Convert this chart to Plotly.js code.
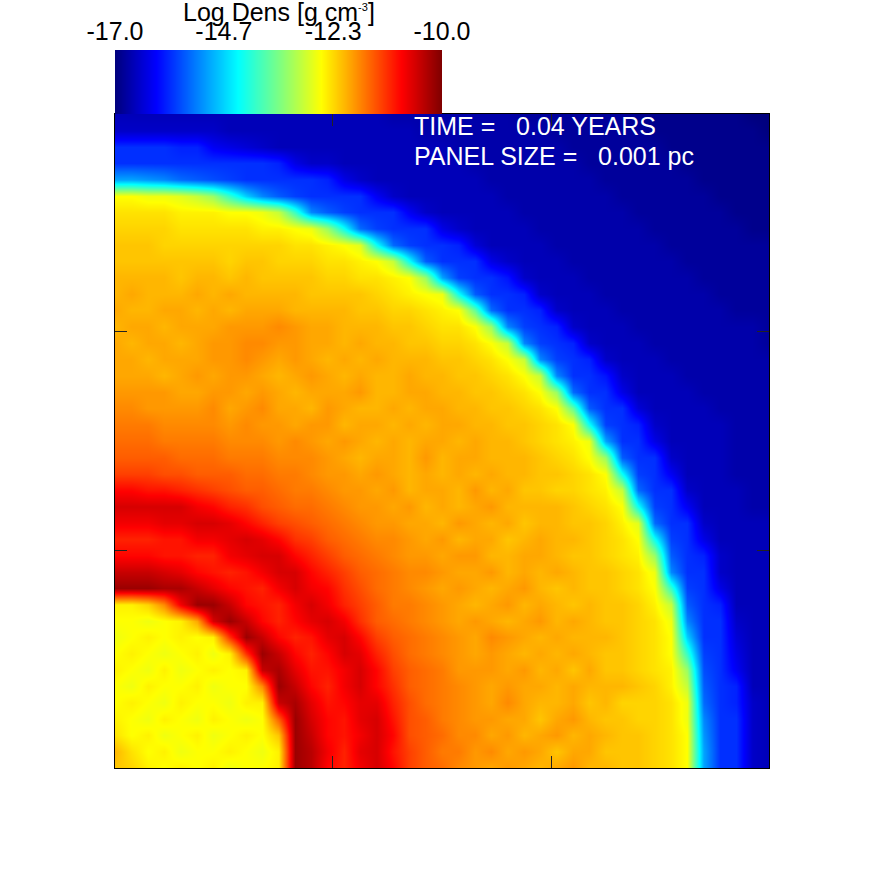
<!DOCTYPE html>
<html>
<head>
<meta charset="utf-8">
<script src="https://cdn.plot.ly/plotly-3.0.1.min.js"></script>
<style>
    html, body { margin: 0; padding: 0; background: white; }
    #chart { width: 884px; height: 884px; }
</style>
</head>
<body>
<div id="chart"></div>
<script>
// log density, first row is the bottom edge, first column the left edge
const logDens = [
[-12.2,-12.3,-12.5,-12.6,-12.5,-12.6,-12.5,-12.7,-12.6,-12.6,-12.5,-10.2,-10.4,-10.9,-11.1,-10.8,-10.6,-10.9,-11.3,-11.5,-11.6,-11.8,-11.9,-12.0,-11.9,-12.0,-12.1,-12.0,-11.9,-12.1,-12.1,-12.2,-12.2,-12.3,-12.4,-12.6,-15.0,-15.8,-15.8,-16.5,-16.6],
[-12.1,-12.4,-12.6,-12.5,-12.7,-12.6,-12.6,-12.5,-12.6,-12.7,-12.5,-10.2,-10.4,-10.8,-11.1,-10.7,-10.6,-11.0,-11.3,-11.5,-11.7,-11.7,-11.9,-11.8,-12.0,-11.9,-12.0,-12.2,-12.0,-12.0,-12.2,-12.2,-12.2,-12.3,-12.4,-12.6,-15.0,-15.8,-15.8,-16.5,-16.6],
[-12.4,-12.6,-12.5,-12.7,-12.6,-12.5,-12.7,-12.6,-12.5,-12.6,-12.2,-10.2,-10.5,-10.9,-11.0,-10.8,-10.6,-10.9,-11.4,-11.5,-11.6,-11.8,-11.8,-12.0,-11.9,-12.1,-12.0,-11.9,-12.1,-12.0,-12.1,-12.2,-12.2,-12.3,-12.4,-12.6,-15.1,-15.8,-15.8,-16.5,-16.6],
[-12.5,-12.6,-12.7,-12.5,-12.6,-12.7,-12.5,-12.6,-12.7,-12.6,-11.5,-10.2,-10.6,-10.9,-11.0,-10.7,-10.6,-11.0,-11.4,-11.5,-11.7,-11.8,-11.9,-11.9,-12.0,-12.0,-12.2,-12.0,-11.9,-12.1,-12.2,-12.2,-12.3,-12.3,-12.4,-12.7,-15.2,-15.8,-15.8,-16.5,-16.6],
[-12.6,-12.5,-12.6,-12.7,-12.5,-12.6,-12.6,-12.7,-12.5,-12.5,-10.5,-10.3,-10.7,-11.0,-10.9,-10.7,-10.7,-11.1,-11.4,-11.6,-11.7,-11.8,-11.9,-12.0,-11.8,-12.0,-12.1,-12.1,-12.0,-12.2,-12.1,-12.3,-12.3,-12.3,-12.4,-12.7,-15.4,-15.8,-15.9,-16.5,-16.6],
[-12.6,-12.7,-12.5,-12.6,-12.6,-12.5,-12.7,-12.6,-12.6,-11.8,-10.2,-10.5,-10.9,-11.1,-10.8,-10.6,-10.9,-11.2,-11.5,-11.6,-11.7,-11.8,-11.9,-12.0,-11.9,-12.0,-12.0,-12.1,-12.0,-12.1,-12.1,-12.1,-12.2,-12.3,-12.5,-13.0,-15.5,-15.8,-15.9,-16.6,-16.6],
[-12.5,-12.6,-12.7,-12.5,-12.7,-12.6,-12.5,-12.6,-12.5,-10.5,-10.3,-10.7,-11.0,-11.0,-10.8,-10.6,-10.9,-11.3,-11.5,-11.6,-11.7,-11.9,-11.9,-11.9,-12.0,-11.9,-12.1,-12.0,-12.2,-12.0,-12.2,-12.2,-12.3,-12.4,-12.5,-13.3,-15.6,-15.8,-16.2,-16.6,-16.6],
[-12.6,-12.5,-12.6,-12.7,-12.6,-12.5,-12.7,-12.5,-11.2,-10.2,-10.5,-10.9,-11.1,-10.9,-10.6,-10.7,-11.1,-11.4,-11.6,-11.7,-11.8,-11.9,-12.0,-11.9,-12.0,-12.1,-12.0,-12.1,-12.0,-12.1,-12.2,-12.2,-12.3,-12.4,-12.6,-14.0,-15.7,-15.8,-16.3,-16.6,-16.6],
[-12.7,-12.6,-12.5,-12.6,-12.5,-12.6,-12.5,-11.2,-10.2,-10.5,-10.9,-11.1,-11.0,-10.7,-10.6,-10.9,-11.3,-11.5,-11.6,-11.7,-11.8,-11.9,-12.0,-11.8,-11.9,-12.0,-12.1,-12.0,-12.1,-12.1,-12.1,-12.2,-12.3,-12.4,-12.6,-14.7,-15.8,-15.8,-16.4,-16.6,-16.6],
[-12.6,-12.6,-12.7,-12.6,-12.5,-12.0,-10.6,-10.2,-10.5,-10.9,-11.1,-10.9,-10.7,-10.6,-10.8,-11.2,-11.5,-11.6,-11.7,-11.8,-11.9,-12.0,-11.9,-12.0,-12.1,-12.0,-11.9,-12.1,-12.0,-12.1,-12.2,-12.2,-12.3,-12.4,-12.7,-15.2,-15.8,-15.8,-16.5,-16.6,-16.6],
[-12.5,-12.5,-12.3,-11.8,-10.8,-10.2,-10.2,-10.5,-10.9,-11.0,-11.1,-10.8,-10.6,-10.8,-11.1,-11.3,-11.5,-11.7,-11.7,-11.8,-11.9,-12.0,-12.1,-12.0,-11.9,-12.1,-12.0,-12.1,-12.2,-12.1,-12.2,-12.2,-12.3,-12.5,-13.0,-15.5,-15.8,-15.9,-16.6,-16.6,-16.6],
[-10.2,-10.2,-10.2,-10.3,-10.3,-10.5,-10.7,-10.9,-11.0,-11.1,-10.8,-10.6,-10.8,-10.9,-11.2,-11.4,-11.6,-11.7,-11.8,-11.9,-12.0,-11.9,-12.0,-12.1,-12.0,-11.9,-12.1,-12.2,-12.1,-12.2,-12.2,-12.3,-12.4,-12.6,-14.0,-15.7,-15.8,-16.3,-16.6,-16.6,-16.6],
[-10.5,-10.5,-10.5,-10.6,-10.7,-10.9,-11.0,-11.1,-11.0,-10.8,-10.6,-10.6,-10.9,-11.1,-11.3,-11.5,-11.6,-11.7,-11.8,-11.8,-11.9,-12.0,-12.0,-11.9,-12.1,-12.0,-12.1,-12.0,-12.1,-12.2,-12.2,-12.3,-12.4,-12.7,-15.2,-15.8,-15.8,-16.5,-16.6,-16.6,-16.6],
[-10.9,-10.9,-10.9,-11.0,-11.0,-11.1,-11.1,-10.8,-10.7,-10.6,-10.6,-10.9,-11.1,-11.3,-11.5,-11.6,-11.7,-11.8,-11.9,-11.9,-12.0,-11.9,-11.9,-12.1,-12.1,-12.0,-12.0,-12.1,-12.2,-12.2,-12.3,-12.4,-12.5,-13.3,-15.5,-15.8,-15.9,-16.5,-16.6,-16.6,-16.6],
[-11.1,-11.1,-11.1,-11.0,-11.0,-10.8,-10.8,-10.7,-10.6,-10.7,-10.9,-11.2,-11.3,-11.5,-11.6,-11.7,-11.8,-11.8,-11.9,-12.0,-11.9,-12.1,-12.0,-12.0,-12.2,-12.1,-12.0,-12.1,-12.1,-12.2,-12.3,-12.4,-12.6,-14.3,-15.7,-15.8,-16.3,-16.6,-16.6,-16.6,-16.6],
[-10.8,-10.8,-10.8,-10.7,-10.7,-10.6,-10.6,-10.7,-10.9,-11.1,-11.3,-11.4,-11.5,-11.6,-11.7,-11.8,-11.9,-11.9,-12.0,-12.0,-12.1,-11.9,-12.0,-12.1,-12.0,-12.2,-12.1,-12.1,-12.2,-12.2,-12.3,-12.5,-12.8,-15.4,-15.8,-15.8,-16.5,-16.6,-16.6,-16.6,-16.6],
[-10.6,-10.6,-10.6,-10.6,-10.6,-10.8,-10.9,-11.1,-11.2,-11.4,-11.5,-11.6,-11.6,-11.7,-11.8,-11.9,-11.9,-12.0,-11.9,-12.1,-12.0,-12.1,-12.0,-11.9,-12.1,-12.1,-12.1,-12.1,-12.2,-12.3,-12.4,-12.6,-14.3,-15.7,-15.8,-16.2,-16.6,-16.6,-16.6,-16.7,-16.7],
[-10.9,-10.9,-11.0,-11.0,-11.1,-11.2,-11.3,-11.4,-11.5,-11.5,-11.6,-11.7,-11.7,-11.8,-11.9,-11.9,-12.0,-11.9,-12.1,-12.0,-12.0,-12.1,-11.9,-12.1,-12.0,-12.2,-12.2,-12.3,-12.3,-12.4,-12.5,-13.0,-15.4,-15.8,-15.8,-16.5,-16.6,-16.6,-16.6,-16.7,-16.7],
[-11.3,-11.3,-11.3,-11.4,-11.4,-11.5,-11.5,-11.5,-11.6,-11.6,-11.7,-11.7,-11.8,-11.9,-11.9,-12.0,-11.9,-12.0,-12.1,-12.0,-12.1,-12.0,-12.1,-12.0,-12.1,-12.1,-12.2,-12.2,-12.3,-12.4,-12.6,-14.3,-15.7,-15.8,-16.2,-16.6,-16.6,-16.6,-16.7,-16.7,-16.7],
[-11.5,-11.5,-11.5,-11.5,-11.6,-11.6,-11.6,-11.7,-11.7,-11.7,-11.8,-11.8,-11.8,-11.9,-12.0,-12.1,-12.0,-12.0,-12.1,-11.9,-12.1,-12.0,-12.0,-12.1,-12.1,-12.1,-12.2,-12.3,-12.4,-12.6,-13.3,-15.5,-15.8,-15.8,-16.5,-16.6,-16.6,-16.6,-16.7,-16.7,-16.7],
[-11.6,-11.6,-11.6,-11.7,-11.7,-11.7,-11.7,-11.8,-11.8,-11.8,-11.9,-11.8,-11.9,-12.0,-11.9,-12.0,-12.1,-12.0,-12.1,-12.0,-12.0,-12.1,-12.0,-12.1,-12.1,-12.2,-12.3,-12.4,-12.5,-12.7,-15.0,-15.8,-15.8,-16.3,-16.6,-16.6,-16.6,-16.6,-16.7,-16.7,-16.7],
[-11.7,-11.7,-11.7,-11.8,-11.8,-11.8,-11.8,-11.9,-11.8,-11.9,-11.9,-12.0,-11.9,-11.9,-12.1,-12.0,-12.0,-12.1,-12.0,-12.1,-12.0,-12.0,-12.1,-12.1,-12.2,-12.2,-12.3,-12.4,-12.6,-14.3,-15.7,-15.8,-15.9,-16.5,-16.6,-16.6,-16.6,-16.6,-16.7,-16.7,-16.7],
[-11.8,-11.8,-11.9,-11.9,-11.9,-11.9,-11.8,-12.0,-11.9,-11.8,-12.0,-12.0,-12.1,-11.9,-12.0,-12.1,-12.1,-12.0,-12.1,-12.0,-12.0,-12.1,-12.1,-12.2,-12.2,-12.3,-12.4,-12.6,-13.7,-15.5,-15.8,-15.8,-16.4,-16.6,-16.6,-16.6,-16.6,-16.7,-16.7,-16.7,-16.7],
[-11.9,-11.9,-11.9,-11.9,-12.0,-12.0,-11.9,-11.9,-12.0,-11.9,-12.0,-12.1,-12.0,-12.0,-12.0,-11.9,-12.1,-12.1,-12.0,-12.0,-12.1,-12.1,-12.2,-12.2,-12.3,-12.4,-12.6,-13.3,-15.4,-15.8,-15.8,-16.3,-16.6,-16.6,-16.6,-16.6,-16.7,-16.7,-16.7,-16.7,-16.7],
[-12.0,-12.0,-12.0,-12.1,-12.0,-11.9,-12.0,-11.9,-11.9,-12.0,-12.1,-12.0,-11.9,-12.0,-12.1,-12.0,-12.1,-12.1,-12.0,-12.1,-12.1,-12.2,-12.2,-12.3,-12.4,-12.6,-13.0,-15.2,-15.8,-15.8,-16.0,-16.5,-16.6,-16.6,-16.6,-16.7,-16.7,-16.7,-16.7,-16.7,-16.7],
[-12.0,-12.0,-12.1,-12.0,-12.0,-12.0,-11.9,-11.9,-11.8,-11.9,-12.0,-11.9,-12.0,-12.1,-12.0,-12.1,-12.0,-12.1,-12.1,-12.1,-12.2,-12.2,-12.3,-12.4,-12.6,-13.0,-15.2,-15.7,-15.8,-15.9,-16.5,-16.6,-16.6,-16.6,-16.7,-16.7,-16.7,-16.7,-16.7,-16.7,-16.7],
[-12.0,-12.1,-12.0,-12.0,-12.1,-12.0,-11.9,-11.9,-11.8,-11.8,-11.9,-11.9,-12.0,-12.0,-12.1,-12.0,-12.1,-12.1,-12.2,-12.2,-12.3,-12.3,-12.4,-12.6,-13.0,-15.2,-15.7,-15.8,-15.9,-16.5,-16.6,-16.6,-16.6,-16.7,-16.7,-16.7,-16.7,-16.7,-16.7,-16.7,-16.8],
[-12.1,-12.0,-12.0,-12.1,-12.0,-12.0,-12.0,-11.9,-11.9,-11.9,-11.8,-11.9,-12.0,-12.0,-12.1,-12.1,-12.1,-12.2,-12.2,-12.3,-12.4,-12.4,-12.6,-13.3,-15.2,-15.7,-15.8,-15.9,-16.5,-16.6,-16.6,-16.6,-16.7,-16.7,-16.7,-16.7,-16.7,-16.7,-16.7,-16.7,-16.8],
[-12.0,-12.1,-12.1,-12.0,-12.0,-12.1,-12.0,-12.1,-12.0,-12.0,-12.0,-12.1,-12.1,-12.1,-12.1,-12.2,-12.2,-12.3,-12.3,-12.4,-12.5,-12.6,-13.7,-15.4,-15.8,-15.8,-15.9,-16.5,-16.6,-16.6,-16.6,-16.7,-16.7,-16.7,-16.7,-16.7,-16.7,-16.7,-16.8,-16.8,-16.8],
[-12.1,-12.0,-12.1,-12.1,-12.1,-12.0,-12.1,-12.0,-12.1,-12.1,-12.1,-12.1,-12.2,-12.2,-12.2,-12.2,-12.3,-12.4,-12.5,-12.6,-12.7,-14.3,-15.5,-15.8,-15.8,-15.9,-16.5,-16.6,-16.6,-16.6,-16.7,-16.7,-16.7,-16.7,-16.7,-16.7,-16.7,-16.8,-16.8,-16.8,-16.8],
[-12.1,-12.1,-12.1,-12.1,-12.2,-12.1,-12.1,-12.2,-12.1,-12.2,-12.2,-12.2,-12.2,-12.3,-12.3,-12.4,-12.4,-12.5,-12.6,-13.3,-15.0,-15.7,-15.8,-15.8,-16.0,-16.5,-16.6,-16.6,-16.6,-16.7,-16.7,-16.7,-16.7,-16.7,-16.7,-16.7,-16.8,-16.8,-16.8,-16.8,-16.8],
[-12.2,-12.2,-12.2,-12.2,-12.2,-12.2,-12.2,-12.3,-12.2,-12.2,-12.3,-12.3,-12.3,-12.4,-12.4,-12.5,-12.6,-13.0,-14.3,-15.5,-15.8,-15.8,-15.8,-16.3,-16.5,-16.6,-16.6,-16.6,-16.7,-16.7,-16.7,-16.7,-16.7,-16.7,-16.7,-16.8,-16.8,-16.8,-16.8,-16.8,-16.8],
[-12.2,-12.2,-12.2,-12.3,-12.3,-12.3,-12.3,-12.3,-12.3,-12.3,-12.3,-12.4,-12.4,-12.5,-12.6,-12.8,-14.3,-15.4,-15.7,-15.8,-15.8,-15.9,-16.4,-16.6,-16.6,-16.6,-16.6,-16.7,-16.7,-16.7,-16.7,-16.7,-16.7,-16.7,-16.8,-16.8,-16.8,-16.8,-16.8,-16.8,-16.8],
[-12.3,-12.3,-12.3,-12.3,-12.4,-12.4,-12.4,-12.4,-12.4,-12.5,-12.5,-12.6,-12.7,-13.3,-14.3,-15.4,-15.7,-15.8,-15.8,-15.8,-16.3,-16.5,-16.6,-16.6,-16.6,-16.6,-16.7,-16.7,-16.7,-16.7,-16.7,-16.7,-16.7,-16.8,-16.8,-16.8,-16.8,-16.8,-16.8,-16.9,-16.9],
[-12.4,-12.4,-12.4,-12.4,-12.5,-12.5,-12.5,-12.6,-12.6,-12.7,-13.0,-14.0,-15.2,-15.5,-15.7,-15.8,-15.8,-15.8,-16.2,-16.5,-16.6,-16.6,-16.6,-16.6,-16.6,-16.7,-16.7,-16.7,-16.7,-16.7,-16.7,-16.7,-16.8,-16.8,-16.8,-16.8,-16.8,-16.8,-16.9,-16.9,-16.9],
[-12.6,-12.6,-12.7,-12.7,-12.8,-13.0,-13.3,-14.0,-14.7,-15.2,-15.5,-15.7,-15.8,-15.8,-15.8,-15.8,-16.2,-16.5,-16.6,-16.6,-16.6,-16.6,-16.6,-16.6,-16.7,-16.7,-16.7,-16.7,-16.7,-16.7,-16.7,-16.8,-16.8,-16.8,-16.8,-16.8,-16.8,-16.9,-16.9,-16.9,-16.9],
[-15.0,-15.0,-15.1,-15.2,-15.4,-15.5,-15.6,-15.7,-15.8,-15.8,-15.8,-15.8,-15.8,-15.9,-16.3,-16.5,-16.6,-16.6,-16.6,-16.6,-16.6,-16.6,-16.6,-16.7,-16.7,-16.7,-16.7,-16.7,-16.7,-16.7,-16.8,-16.8,-16.8,-16.8,-16.8,-16.8,-16.9,-16.9,-16.9,-16.9,-16.9],
[-15.8,-15.8,-15.8,-15.8,-15.8,-15.8,-15.8,-15.8,-15.8,-15.8,-15.9,-16.3,-16.5,-16.5,-16.6,-16.6,-16.6,-16.6,-16.6,-16.6,-16.6,-16.6,-16.7,-16.7,-16.7,-16.7,-16.7,-16.7,-16.7,-16.8,-16.8,-16.8,-16.8,-16.8,-16.8,-16.9,-16.9,-16.9,-16.9,-16.9,-16.9],
[-15.8,-15.8,-15.8,-15.8,-15.9,-15.9,-16.2,-16.3,-16.4,-16.5,-16.6,-16.6,-16.6,-16.6,-16.6,-16.6,-16.6,-16.6,-16.6,-16.6,-16.6,-16.7,-16.7,-16.7,-16.7,-16.7,-16.7,-16.7,-16.8,-16.8,-16.8,-16.8,-16.8,-16.8,-16.9,-16.9,-16.9,-16.9,-16.9,-16.9,-16.9],
[-16.5,-16.5,-16.5,-16.5,-16.5,-16.5,-16.5,-16.6,-16.6,-16.6,-16.6,-16.6,-16.6,-16.6,-16.6,-16.6,-16.6,-16.6,-16.6,-16.7,-16.7,-16.7,-16.7,-16.7,-16.7,-16.7,-16.7,-16.8,-16.8,-16.8,-16.8,-16.8,-16.8,-16.9,-16.9,-16.9,-16.9,-16.9,-16.9,-16.9,-17.0],
[-16.6,-16.6,-16.6,-16.6,-16.6,-16.6,-16.6,-16.6,-16.6,-16.6,-16.6,-16.6,-16.6,-16.6,-16.6,-16.6,-16.6,-16.7,-16.7,-16.7,-16.7,-16.7,-16.7,-16.7,-16.7,-16.8,-16.8,-16.8,-16.8,-16.8,-16.8,-16.8,-16.9,-16.9,-16.9,-16.9,-16.9,-16.9,-16.9,-17.0,-17.0]
]

// colour bar
const barLevels = [-17.0, -16.5, -16.0, -15.5, -15.0, -14.5, -14.0, -13.5, -13.0, -12.5, -12.0, -11.5, -11.0, -10.5, -10.0]
const barTicks = [-17.0, -14.67, -12.33, -10.0]
const barTickLabels = ['-17.0', '-14.7', '-12.3', '-10.0']

const jetStops = [0, 0.125, 0.375, 0.63, 0.875, 1]
const jetColors = ['rgb(0,0,125)', 'rgb(0,0,255)', 'rgb(0,255,255)', 'rgb(255,255,0)', 'rgb(255,0,0)', 'rgb(125,0,0)']
const jet = jetStops.map((s, i) => [s, jetColors[i]])

const panelTicks = [13.33, 26.67]
const fontName = '"Liberation Sans", Arial, sans-serif'
const fs = 25
const W = 884

const panel = {
    z: logDens,
    type: 'heatmap',
    colorscale: jet,
    zmin: -17,
    zmax: -10,
    zsmooth: 'best',
    showscale: false,
    xaxis: 'x',
    yaxis: 'y',
}

const bar = {
    x: barLevels,
    y: [0, 1],
    z: [barLevels, barLevels],
    type: 'heatmap',
    colorscale: jet,
    zmin: -17,
    zmax: -10,
    zsmooth: 'best',
    showscale: false,
    xaxis: 'x2',
    yaxis: 'y2',
}

const panelAxis = {
    range: [0, 40],
    tickvals: panelTicks,
    ticks: 'inside',
    ticklen: 12,
    tickcolor: '#222',
    tickwidth: 1,
    showticklabels: false,
    showgrid: false,
    zeroline: false,
    showline: true,
    linecolor: 'black',
    linewidth: 1,
    mirror: 'ticks',
}

const layout = {
    width: W,
    height: W,
    margin: { l: 0, r: 0, t: 0, b: 0 },
    paper_bgcolor: 'white',
    plot_bgcolor: 'white',
    showlegend: false,
    font: { family: fontName, size: fs, color: 'black' },
    xaxis: { ...panelAxis, domain: [115 / W, 769 / W], anchor: 'y' },
    yaxis: { ...panelAxis, domain: [(W - 768) / W, (W - 114) / W], anchor: 'x' },
    xaxis2: {
        range: [-17, -10],
        domain: [115 / W, 442 / W],
        anchor: 'y2',
        side: 'top',
        tickvals: barTicks,
        ticktext: barTickLabels,
        ticks: '',
        ticklabelstandoff: 4,
        tickfont: { family: fontName, size: fs, color: 'black' },
        showgrid: false,
        zeroline: false,
        showline: false,
    },
    yaxis2: {
        range: [0, 1],
        domain: [(W - 114) / W, (W - 50) / W],
        anchor: 'x2',
        showticklabels: false,
        ticks: '',
        showgrid: false,
        zeroline: false,
        showline: false,
    },
    annotations: [
        {
            text: 'Log Dens [g cm<sup><span style="font-size:11px">-3</span></sup>]',
            xref: 'paper', yref: 'paper',
            x: 279 / W, y: (W - 12) / W,
            xanchor: 'center', yanchor: 'middle',
            showarrow: false,
            font: { family: fontName, size: fs, color: 'black' },
        },
        {
            text: 'TIME =\u00a0\u00a0\u00a00.04 YEARS',
            xref: 'paper', yref: 'paper',
            x: 411.5 / W, y: (W - 126) / W,
            xanchor: 'left', yanchor: 'middle',
            showarrow: false,
            font: { family: fontName, size: fs, color: 'white' },
        },
        {
            text: 'PANEL SIZE =\u00a0\u00a0\u00a00.001 pc',
            xref: 'paper', yref: 'paper',
            x: 411.5 / W, y: (W - 156) / W,
            xanchor: 'left', yanchor: 'middle',
            showarrow: false,
            font: { family: fontName, size: fs, color: 'white' },
        },
    ],
}

Plotly.newPlot('chart', [panel, bar], layout, { displayModeBar: false, staticPlot: true })
</script>
</body>
</html>
